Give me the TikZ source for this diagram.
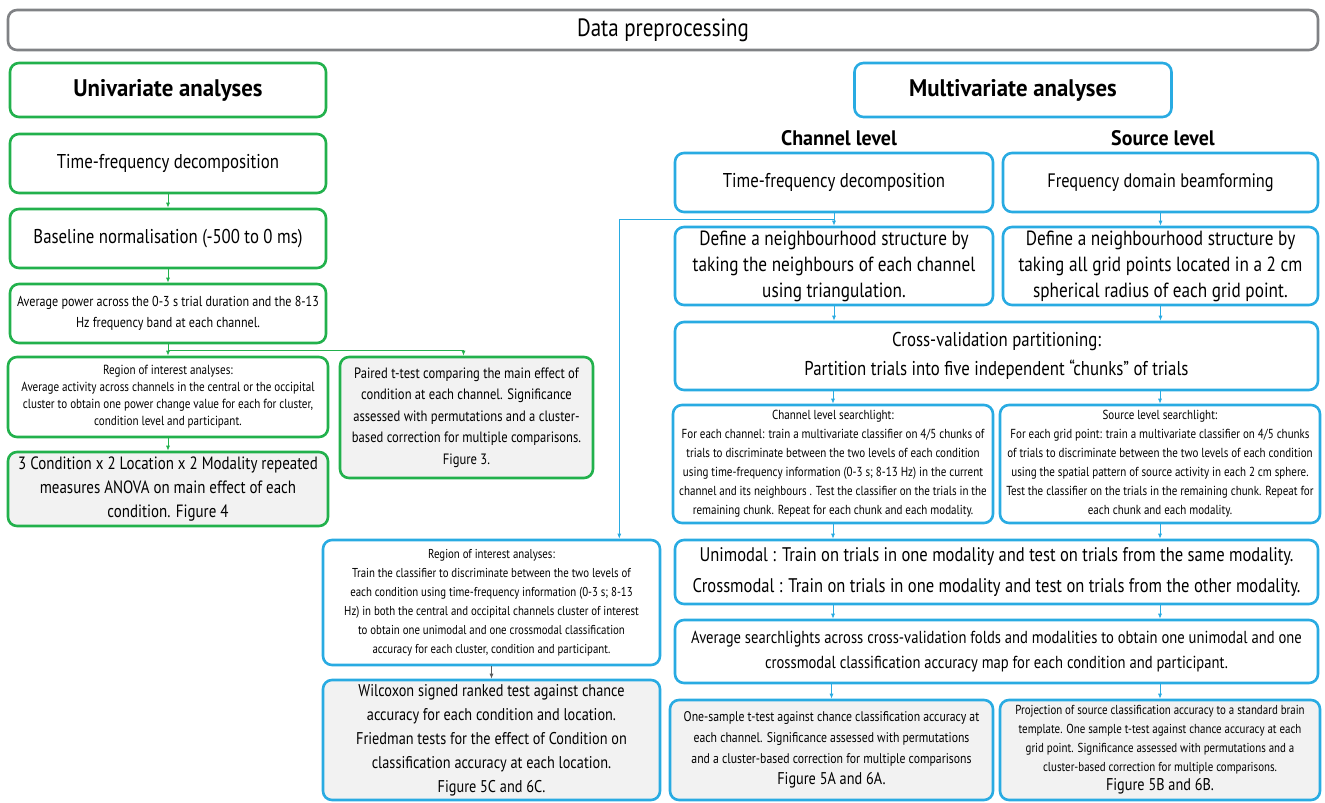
\documentclass[tikz,border=0pt]{standalone}
\usepackage{fontspec}
\setmainfont{PT Sans}[FakeStretch=0.84, BoldFeatures={FakeStretch=0.95}]
\usetikzlibrary{arrows.meta,calc}
\definecolor{gr}{RGB}{34,177,76}
\definecolor{bl}{RGB}{41,171,226}
\definecolor{gy}{RGB}{128,130,133}
\definecolor{fillgy}{RGB}{242,242,242}
\definecolor{dgy}{RGB}{90,90,90}
\newcommand{\setfs}[2]{\fontsize{#1}{#2}\selectfont}
\tikzset{
  box/.style={draw, line width=2.6pt, rounded corners=9pt, align=center, inner sep=2pt, text=black},
  gbox/.style={box, draw=gr},
  bbox/.style={box, draw=bl},
  res/.style={fill=fillgy},
  garrow/.style={draw=gr, line width=0.8pt, -{Latex[length=5pt,width=4pt]}},
  barrow/.style={draw=bl, line width=0.8pt, -{Latex[length=5pt,width=4pt]}},
  kline/.style={draw=dgy, line width=0.8pt, -{Latex[length=5pt,width=4pt]}},
}
\begin{document}
\begin{tikzpicture}[x=1pt,y=-1pt]
\useasboundingbox (0,0) rectangle (1325,803);
% top
\node[box, draw=gy, minimum width=1310, minimum height=40, font=\setfs{25}{28}] (prep) at (663,30) {Data preprocessing};
\node[gbox, minimum width=316, minimum height=54, font=\bfseries\setfs{24}{27}] (uni) at (168,90) {Univariate analyses};
\node[bbox, minimum width=317, minimum height=54, font=\bfseries\setfs{24}{27}] (multi) at (1013,90) {Multivariate analyses};
\node[font=\bfseries\setfs{21}{24}] (chl) at (839,138) {Channel level};
\node[font=\bfseries\setfs{21}{24}] (srl) at (1163,138) {Source level};
% left column
\node[gbox, minimum width=316, minimum height=59, font=\setfs{20}{24}] (tf1) at (168,163.5) {Time-frequency decomposition};
\node[gbox, minimum width=316, minimum height=59, font=\setfs{20}{24}] (base) at (168,238.5) {Baseline normalisation (-500 to 0 ms)};
\node[gbox, minimum width=316, minimum height=59, font=\setfs{14.4}{21}] (avg) at (168,313.5) {Average power across the 0-3 s trial duration and the 8-13\\Hz frequency band at each channel.};
\node[gbox, minimum width=320, minimum height=80, font=\setfs{13.2}{17}] (roi1) at (168,397) {Region of interest analyses:\\Average activity across channels in the central or the occipital\\cluster to obtain one power change value for each for cluster,\\condition level and participant.};
\node[gbox, res, minimum width=253, minimum height=121, font=\setfs{15}{21.5}] (paired) at (466.5,417.5) {Paired t-test comparing the main effect of\\condition at each channel. Significance\\assessed with permutations and a cluster-\\based correction for multiple comparisons.\\Figure 3.};
\node[gbox, res, minimum width=320, minimum height=74, font=\setfs{17.8}{24}] (anova) at (168,489) {3 Condition x 2 Location x 2 Modality repeated\\measures ANOVA on main effect of each\\condition. Figure 4};
% middle
\node[bbox, minimum width=337, minimum height=125, font=\setfs{12.9}{19}] (roi2) at (491.5,602.5) {Region of interest analyses:\\Train the classifier to discriminate between the two levels of\\each condition using time-frequency information (0-3 s; 8-13\\Hz) in both the central and occipital channels cluster of interest\\to obtain one unimodal and one crossmodal classification\\accuracy for each cluster, condition and participant.};
\node[bbox, res, minimum width=337, minimum height=120, font=\setfs{17}{24}] (wil) at (491.5,740) {Wilcoxon signed ranked test against chance\\accuracy for each condition and location.\\Friedman tests for the effect of Condition on\\classification accuracy at each location.\\Figure 5C and 6C.};
% right
\node[bbox, minimum width=318, minimum height=59, font=\setfs{20}{24}] (tf2) at (834,182.5) {Time-frequency decomposition};
\node[bbox, minimum width=315, minimum height=59, font=\setfs{19.5}{24}] (beam) at (1160.5,182.5) {Frequency domain beamforming};
\node[bbox, minimum width=318, minimum height=78, font=\setfs{20.5}{26}] (nb1) at (834,266) {Define a neighbourhood structure by\\taking the neighbours of each channel\\using triangulation.};
\node[bbox, minimum width=315, minimum height=78, font=\setfs{20.5}{26}] (nb2) at (1160.5,266) {Define a neighbourhood structure by\\taking all grid points located in a 2 cm\\spherical radius of each grid point.};
\node[bbox, minimum width=643, minimum height=68, font=\setfs{20}{29}] (cv) at (996.5,356) {Cross-validation partitioning:\\Partition trials into five independent “chunks” of trials};
\node[bbox, minimum width=320, minimum height=118, font=\setfs{13.1}{19}] (sl1) at (833,464) {Channel level searchlight:\\For each channel: train a multivariate classifier on 4/5 chunks of\\trials to discriminate between the two levels of each condition\\using time-frequency information (0-3 s; 8-13 Hz) in the current\\channel and its neighbours . Test the classifier on the trials in the\\remaining chunk. Repeat for each chunk and each modality.};
\node[bbox, minimum width=320, minimum height=118, font=\setfs{13.1}{19}] (sl2) at (1160,464) {Source level searchlight:\\For each grid point: train a multivariate classifier on 4/5 chunks\\of trials to discriminate between the two levels of each condition\\using the spatial pattern of source activity in each 2 cm sphere.\\Test the classifier on the trials in the remaining chunk. Repeat for\\each chunk and each modality.};
\node[bbox, minimum width=643, minimum height=64, font=\setfs{19.7}{31}] (um) at (996.5,572) {Unimodal : Train on trials in one modality and test on trials from the same modality.\\Crossmodal : Train on trials in one modality and test on trials from the other modality.};
\node[bbox, minimum width=643, minimum height=63, font=\setfs{17.4}{25}] (avsl) at (996.5,651.5) {Average searchlights across cross-validation folds and modalities to obtain one unimodal and one\\crossmodal classification accuracy map for each condition and participant.};
\node[bbox, res, minimum width=323, minimum height=100, font=\setfs{14}{21}] (t1) at (831.5,750) {One-sample t-test against chance classification accuracy at\\each channel. Significance assessed with permutations\\and a cluster-based correction for multiple comparisons\\{\setfs{17}{24}Figure 5A and 6A.}};
\node[bbox, res, minimum width=320, minimum height=100, font=\setfs{13}{19}] (t2) at (1160,750) {Projection of source classification accuracy to a standard brain\\template. One sample t-test against chance accuracy at each\\grid point. Significance assessed with permutations and a\\cluster-based correction for multiple comparisons.\\{\setfs{17}{24}Figure 5B and 6B.}};
% left arrows
\draw[garrow] (tf1.south) -- (base.north);
\draw[garrow] (base.south) -- (avg.north);
\draw[garrow] (avg.south) -- (roi1.north);
\draw[garrow] ($(avg.south)+(0,6)$) -| ($(paired.north)+(-3,0)$);
\draw[garrow] (roi1.south) -- (anova.north);
% middle arrows
\draw[barrow] ($(tf2.south)+(0,6)$) -| ($(roi2.north east)+(-42,0)$);
\draw[kline] (roi2.south) -- (wil.north);
% right arrows
\draw[barrow] (tf2.south) -- (nb1.north);
\draw[barrow] (beam.south) -- (nb2.north);
\draw[barrow] (nb1.south) -- (nb1.south |- cv.north);
\draw[barrow] (nb2.south) -- (nb2.south |- cv.north);
\draw[barrow] (sl1.north |- cv.south) -- (sl1.north);
\draw[barrow] (sl2.north |- cv.south) -- (sl2.north);
\draw[barrow] (sl1.south) -- (sl1.south |- um.north);
\draw[barrow] (sl2.south) -- (sl2.south |- um.north);
\draw[barrow] (sl1.south |- um.south) -- (sl1.south |- avsl.north);
\draw[barrow] (sl2.south |- um.south) -- (sl2.south |- avsl.north);
\draw[barrow] (t1.north |- avsl.south) -- (t1.north);
\draw[barrow] (t2.north |- avsl.south) -- (t2.north);
\end{tikzpicture}
\end{document}
